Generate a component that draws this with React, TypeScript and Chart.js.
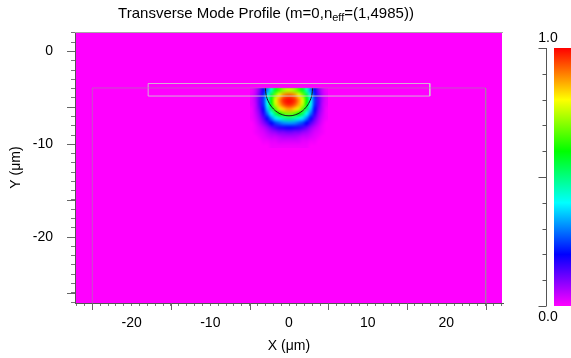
import React, { useEffect, useRef } from "react";
import { Chart, registerables } from "chart.js";
Chart.register(...registerables);

// ---------- text ----------
const TITLE_MAIN = "Transverse Mode Profile (m=0,n";
const TITLE_SUB = "eff";
const TITLE_END = "=(1,4985))";
const X_TITLE = "X (\u03bcm)";
const Y_TITLE = "Y (\u03bcm)";

// ---------- axes ----------
const X_MIN = -27.2;
const X_MAX = 27.2;
const Y_MIN = -27.1;
const Y_MAX = 2.1;
const X_LABELS = [-20, -10, 0, 10, 20];
const Y_LABELS = [0, -10, -20];
const X_LONG_TICKS = [-25, -15, -5, 5, 15, 25];
const Y_LONG_TICKS = [0, -6, -10, -16, -20, -26];
const CB_TICKS = [0, 0.1, 0.2, 0.3, 0.4, 0.5, 0.6, 0.7, 0.8, 0.9, 1.0];
const CB_LONG = [0, 0.5, 1.0];
const CB_LABELS = ["0.0", "1.0"];

// ---------- structure outlines ----------
const WG_X = [-17.9, 17.9, 17.9, -17.9, -17.9];
const WG_Y = [-3.45, -3.45, -4.8, -4.8, -3.45];
const SUB_X = [-25, -25, 25, 25];
const SUB_Y = [-30, -3.93, -3.93, -30];
const CONTOUR_X = [-3.0, -2.9, -2.6, -2.12, -1.5, -0.78, 0, 0.78, 1.5, 2.12, 2.6, 2.9, 3.0];
const CONTOUR_Y = [-3.93, -4.71, -5.43, -6.05, -6.53, -6.83, -6.93, -6.83, -6.53, -6.05, -5.43, -4.71, -3.93];

// ---------- mode field (normalised intensity) ----------
const FIELD_X = [-4.75, -4.25, -3.75, -3.25, -2.75, -2.25, -1.75, -1.25, -0.75, -0.25,
  0.25, 0.75, 1.25, 1.75, 2.25, 2.75, 3.25, 3.75, 4.25, 4.75];
const FIELD_Y = [-4.2, -4.7, -5.2, -5.7, -6.2, -6.7, -7.2, -7.7, -8.2, -8.7, -9.2, -9.7, -10.2];
const FIELD = [
  [0.01, 0.04, 0.10, 0.19, 0.31, 0.45, 0.57, 0.65, 0.71, 0.74, 0.74, 0.71, 0.65, 0.57, 0.45, 0.31, 0.19, 0.10, 0.04, 0.01],
  [0.02, 0.05, 0.12, 0.23, 0.39, 0.55, 0.70, 0.81, 0.88, 0.92, 0.92, 0.88, 0.81, 0.70, 0.55, 0.39, 0.23, 0.12, 0.05, 0.02],
  [0.02, 0.06, 0.13, 0.25, 0.42, 0.60, 0.77, 0.88, 0.96, 0.99, 0.99, 0.96, 0.88, 0.77, 0.60, 0.42, 0.25, 0.13, 0.06, 0.02],
  [0.02, 0.05, 0.13, 0.24, 0.41, 0.59, 0.75, 0.86, 0.93, 0.97, 0.97, 0.93, 0.86, 0.75, 0.59, 0.41, 0.24, 0.13, 0.05, 0.02],
  [0.01, 0.05, 0.11, 0.21, 0.36, 0.52, 0.66, 0.76, 0.83, 0.87, 0.87, 0.83, 0.76, 0.66, 0.52, 0.36, 0.21, 0.11, 0.05, 0.01],
  [0.01, 0.04, 0.09, 0.17, 0.29, 0.41, 0.52, 0.60, 0.66, 0.69, 0.69, 0.66, 0.60, 0.52, 0.41, 0.29, 0.17, 0.09, 0.04, 0.01],
  [0.01, 0.03, 0.07, 0.13, 0.21, 0.30, 0.38, 0.43, 0.47, 0.50, 0.50, 0.47, 0.43, 0.38, 0.30, 0.21, 0.13, 0.07, 0.03, 0.01],
  [0.00, 0.02, 0.05, 0.09, 0.14, 0.20, 0.25, 0.28, 0.31, 0.32, 0.32, 0.31, 0.28, 0.25, 0.20, 0.14, 0.09, 0.05, 0.02, 0.00],
  [0.00, 0.01, 0.03, 0.05, 0.08, 0.12, 0.15, 0.17, 0.18, 0.19, 0.19, 0.18, 0.17, 0.15, 0.12, 0.08, 0.05, 0.03, 0.01, 0.00],
  [0.00, 0.01, 0.02, 0.03, 0.05, 0.07, 0.08, 0.10, 0.10, 0.11, 0.11, 0.10, 0.10, 0.08, 0.07, 0.05, 0.03, 0.02, 0.01, 0.00],
  [0.00, 0.00, 0.01, 0.02, 0.03, 0.04, 0.04, 0.05, 0.06, 0.06, 0.06, 0.06, 0.05, 0.04, 0.04, 0.03, 0.02, 0.01, 0.00, 0.00],
  [0.00, 0.00, 0.00, 0.01, 0.01, 0.02, 0.02, 0.03, 0.03, 0.03, 0.03, 0.03, 0.03, 0.02, 0.02, 0.01, 0.01, 0.00, 0.00, 0.00],
  [0.00, 0.00, 0.00, 0.00, 0.00, 0.01, 0.01, 0.01, 0.01, 0.01, 0.01, 0.01, 0.01, 0.01, 0.01, 0.00, 0.00, 0.00, 0.00, 0.00],
];

const FONT = "Arial, 'Liberation Sans', Helvetica, sans-serif";

function valueToRgb(v: number): [number, number, number] {
  const t = Math.max(0, Math.min(1, v));
  const h = (300 * (1 - t)) / 60;
  const x = 1 - Math.abs((h % 2) - 1);
  let r = 0, g = 0, b = 0;
  if (h < 1) { r = 1; g = x; }
  else if (h < 2) { r = x; g = 1; }
  else if (h < 3) { g = 1; b = x; }
  else if (h < 4) { g = x; b = 1; }
  else if (h < 5) { r = x; b = 1; }
  else { r = 1; b = x; }
  return [Math.round(r * 255), Math.round(g * 255), Math.round(b * 255)];
}
const rgbStr = (v: number) => { const [r, g, b] = valueToRgb(v); return `rgb(${r},${g},${b})`; };

const fieldPlugin = {
  id: "fieldPlugin",
  beforeDatasetsDraw(chart: any) {
    const { ctx, chartArea, scales } = chart;
    const xs = scales.x, ys = scales.y;
    ctx.save();
    ctx.beginPath();
    ctx.rect(chartArea.left + 1, chartArea.top + 1, chartArea.right - chartArea.left - 2, chartArea.bottom - chartArea.top - 1);
    ctx.clip();
    ctx.fillStyle = rgbStr(0);
    ctx.fillRect(chartArea.left, chartArea.top, chartArea.right - chartArea.left, chartArea.bottom - chartArea.top);
    const nx = FIELD_X.length, ny = FIELD_Y.length;
    const off = document.createElement("canvas");
    off.width = nx; off.height = ny;
    const octx = off.getContext("2d")!;
    const img = octx.createImageData(nx, ny);
    for (let j = 0; j < ny; j++) {
      for (let i = 0; i < nx; i++) {
        const [r, g, b] = valueToRgb(FIELD[j][i]);
        const k = (j * nx + i) * 4;
        img.data[k] = r; img.data[k + 1] = g; img.data[k + 2] = b; img.data[k + 3] = 255;
      }
    }
    octx.putImageData(img, 0, 0);
    const hx = (FIELD_X[1] - FIELD_X[0]) / 2;
    const hy = (FIELD_Y[0] - FIELD_Y[1]) / 2;
    const l = xs.getPixelForValue(FIELD_X[0] - hx);
    const r = xs.getPixelForValue(FIELD_X[nx - 1] + hx);
    const t = ys.getPixelForValue(FIELD_Y[0] + hy);
    const b = ys.getPixelForValue(FIELD_Y[ny - 1] - hy);
    ctx.imageSmoothingEnabled = true;
    (ctx as any).imageSmoothingQuality = "high";
    ctx.drawImage(off, l, t, r - l, b - t);
    ctx.restore();
  },
  afterDraw(chart: any) {
    const { ctx, chartArea, scales } = chart;
    const xs = scales.x, ys = scales.y;
    ctx.save();
    // frame
    ctx.lineWidth = 1;
    ctx.strokeStyle = "#a8a8a8";
    ctx.beginPath();
    ctx.moveTo(chartArea.left, chartArea.top + 0.5);
    ctx.lineTo(chartArea.right, chartArea.top + 0.5);
    ctx.stroke();
    // long ticks
    ctx.strokeStyle = "#666";
    ctx.beginPath();
    for (const v of X_LONG_TICKS) {
      const px = Math.round(xs.getPixelForValue(v)) + 0.5;
      ctx.moveTo(px, chartArea.bottom);
      ctx.lineTo(px, chartArea.bottom + 7);
    }
    for (const v of Y_LONG_TICKS) {
      const py = Math.round(ys.getPixelForValue(v)) + 0.5;
      ctx.moveTo(chartArea.left, py);
      ctx.lineTo(chartArea.left - 8, py);
    }
    ctx.stroke();

    // title with subscript
    ctx.fillStyle = "#000";
    ctx.textBaseline = "alphabetic";
    ctx.textAlign = "left";
    ctx.font = `15px ${FONT}`;
    const w1 = ctx.measureText(TITLE_MAIN).width;
    const w3 = ctx.measureText(TITLE_END).width;
    ctx.font = `11px ${FONT}`;
    const w2 = ctx.measureText(TITLE_SUB).width;
    const total = w1 + w2 + w3;
    const cx = 266;
    let tx = cx - total / 2;
    const base = 18;
    ctx.font = `15px ${FONT}`;
    ctx.fillText(TITLE_MAIN, tx, base);
    tx += w1;
    ctx.font = `11px ${FONT}`;
    ctx.fillText(TITLE_SUB, tx, base + 3);
    tx += w2;
    ctx.font = `15px ${FONT}`;
    ctx.fillText(TITLE_END, tx, base);

    // colour bar
    const cbTop = 48, cbBot = 306, cbL = 554, cbR = 571, axX = 546.5;
    const grad = ctx.createLinearGradient(0, cbTop, 0, cbBot);
    for (const v of CB_TICKS) grad.addColorStop(1 - v, rgbStr(v));
    ctx.fillStyle = grad;
    ctx.fillRect(cbL, cbTop, cbR - cbL, cbBot - cbTop);
    ctx.strokeStyle = "#555";
    ctx.beginPath();
    ctx.moveTo(axX, cbTop);
    ctx.lineTo(axX, cbBot);
    for (const v of CB_TICKS) {
      const py = Math.round(cbBot - v * (cbBot - cbTop)) + 0.5;
      const len = CB_LONG.includes(v) ? 8 : 4;
      ctx.moveTo(axX, py);
      ctx.lineTo(axX - len, py);
    }
    ctx.stroke();
    ctx.fillStyle = "#000";
    ctx.font = `14px ${FONT}`;
    ctx.textAlign = "center";
    ctx.textBaseline = "middle";
    ctx.fillText(CB_LABELS[1], 548, 38);
    ctx.fillText(CB_LABELS[0], 548, 317);
    ctx.restore();
  },
};

const xy = (xsArr: number[], ysArr: number[]) => xsArr.map((x, i) => ({ x, y: ysArr[i] }));

export default function App() {
  const ref = useRef<HTMLCanvasElement | null>(null);
  useEffect(() => {
    if (!ref.current) return;
    const minorX: number[] = [];
    for (let v = Math.ceil(X_MIN); v <= Math.floor(X_MAX); v++) minorX.push(v);
    const minorY: number[] = [];
    for (let v = Math.ceil(Y_MIN); v <= Math.floor(Y_MAX); v++) minorY.push(v);
    const chart = new Chart(ref.current, {
      type: "scatter",
      data: {
        datasets: [
          { data: xy(SUB_X, SUB_Y), showLine: true, borderColor: "rgba(150,150,150,0.55)", borderWidth: 1, pointRadius: 0, tension: 0 },
          { data: xy(WG_X, WG_Y), showLine: true, borderColor: "rgba(205,205,205,0.85)", borderWidth: 1, pointRadius: 0, tension: 0 },
          { data: xy(CONTOUR_X, CONTOUR_Y), showLine: true, borderColor: "#1a1a1a", borderWidth: 1, pointRadius: 0, tension: 0.4 },
        ],
      },
      options: {
        animation: false,
        responsive: false,
        layout: { padding: { top: 32, right: 68, left: 0, bottom: 0 } },
        plugins: { legend: { display: false }, tooltip: { enabled: false }, title: { display: false } },
        scales: {
          x: {
            type: "linear",
            min: X_MIN,
            max: X_MAX,
            afterBuildTicks: (s: any) => { s.ticks = minorX.map((v) => ({ value: v })); },
            afterFit: (s: any) => { s.height = 55; },
            ticks: {
              autoSkip: false,
              maxRotation: 0,
              padding: 9,
              color: "#000",
              font: { family: FONT, size: 14 },
              callback: (v: any) => (X_LABELS.includes(Number(v)) ? String(v) : ""),
            },
            grid: { display: true, drawOnChartArea: false, tickLength: 3, tickColor: "#777" },
            border: { display: true, color: "#555" },
            title: { display: true, text: X_TITLE, color: "#000", font: { family: FONT, size: 14 }, padding: { top: 0, bottom: 3 } },
          },
          y: {
            type: "linear",
            min: Y_MIN,
            max: Y_MAX,
            afterBuildTicks: (s: any) => { s.ticks = minorY.map((v) => ({ value: v })); },
            afterFit: (s: any) => { s.width = 75; },
            ticks: {
              autoSkip: false,
              padding: 18,
              color: "#000",
              font: { family: FONT, size: 14 },
              callback: (v: any) => (Y_LABELS.includes(Number(v)) ? String(v) : ""),
            },
            grid: { display: true, drawOnChartArea: false, tickLength: 4, tickColor: "#777" },
            border: { display: true, color: "#555" },
            title: { display: true, text: Y_TITLE, color: "#000", font: { family: FONT, size: 14 }, padding: { top: 8, bottom: 0 } },
          },
        },
      },
      plugins: [fieldPlugin],
    } as any);
    return () => chart.destroy();
  }, []);
  return (
    <div style={{ position: "fixed", left: 0, top: 0, width: 571, height: 358, background: "#fff" }}>
      <canvas ref={ref} width={571} height={358} style={{ display: "block" }} />
    </div>
  );
}
